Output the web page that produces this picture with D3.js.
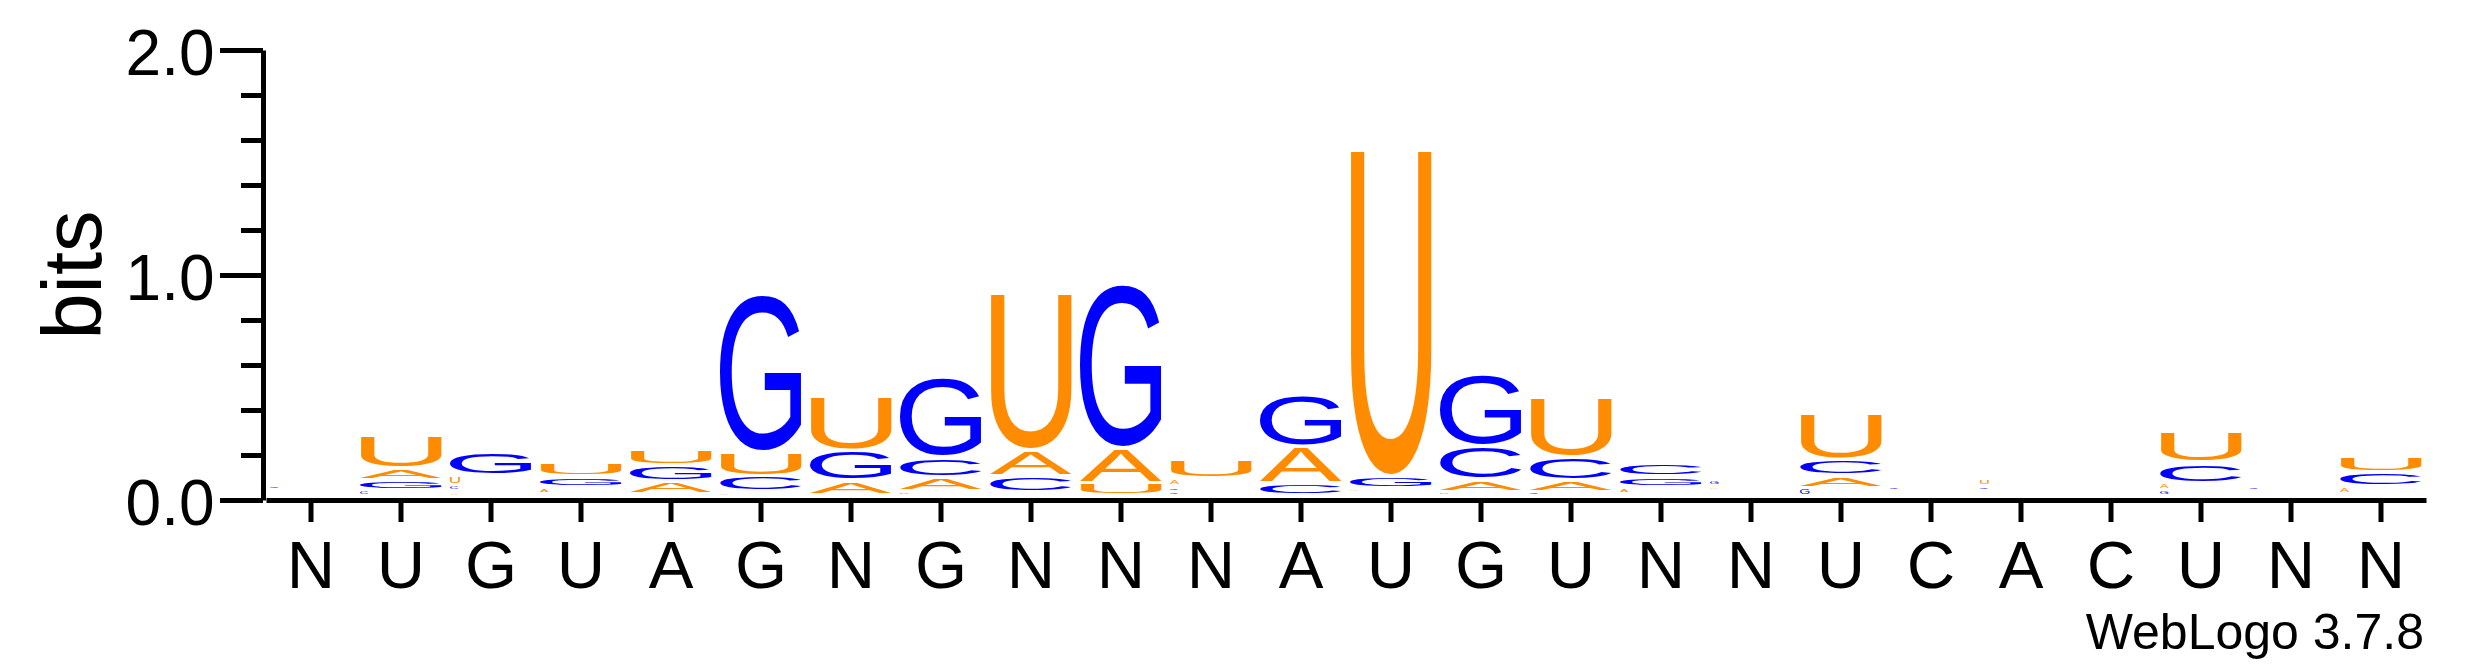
<!DOCTYPE html>
<html>
<head>
<meta charset="utf-8">
<script src="https://cdn.jsdelivr.net/npm/d3@7"></script>
<style>
  html, body { margin: 0; padding: 0; background: #fff; }
</style>
</head>
<body>
<div id="logo"></div>
<script>
// sequence labels under each column
const positions = ['N','U','G','U','A','G','N','G','N','N','N','A','U','G','U','N','N','U','C','A','C','U','N','N']

// letter heights in bits, one value per column
const bitsA = [0.004, 0.050, 0.024, 0.031, 0.058, 0.024, 0.062, 0.062, 0.116, 0.152, 0.036, 0.164, 0.024, 0.053, 0.049, 0.031, 0.022, 0.053, 0.010, 0.021, 0.003, 0.032, 0.010, 0.036]
const bitsC = [0.020, 0.027, 0.027, 0.012, 0.010, 0.067, 0.008, 0.089, 0.071, 0.006, 0.024, 0.053, 0.014, 0.151, 0.107, 0.058, 0.005, 0.071, 0.023, 0.023, 0.003, 0.090, 0.022, 0.062]
const bitsG = [0.025, 0.048, 0.102, 0.049, 0.070, 0.702, 0.133, 0.355, 0.019, 0.735, 0.022, 0.231, 0.053, 0.320, 0.022, 0.049, 0.030, 0.040, 0.003, 0.003, 0.003, 0.028, 0.003, 0.010]
const bitsU = [0.004, 0.151, 0.044, 0.062, 0.072, 0.107, 0.244, 0.024, 0.698, 0.056, 0.088, 0.005, 1.453, 0.022, 0.267, 0.010, 0.020, 0.210, 0.010, 0.033, 0.003, 0.140, 0.010, 0.071]

const majorTicks = [0, 1, 2]
const yTickLabels = ['0.0', '1.0', '2.0']
const minorTicks = [0.2, 0.4, 0.6, 0.8, 1.2, 1.4, 1.6, 1.8]

const bases = ['A', 'C', 'G', 'U']
const series = {A: bitsA, C: bitsC, G: bitsG, U: bitsU}
const colors = {A: '#ff8c00', C: '#0000ff', G: '#0000ff', U: '#ff8c00'}
const font = '"Liberation Sans", Arial, Helvetica, sans-serif'

const width = 2475, height = 667
const lineW = 5

const svg = d3.select('#logo')
    .append('svg')
    .attr('width', width).attr('height', height)

const x = d3.scaleBand()
    .domain(d3.range(positions.length))
    .range([266, 2426])
const y = d3.scaleLinear()
    .domain([0, 2])
    .range([500, 50])

// y axis, major ticks with labels
const yg = svg.append('g')
    .attr('transform', 'translate(263,0)')
    .call(d3.axisLeft(y).tickValues(majorTicks)
        .tickFormat((d, i) => yTickLabels[i])
        .tickSize(43).tickPadding(5.5).tickSizeOuter(0))
yg.select('.domain').attr('stroke-width', lineW)
yg.selectAll('.tick line').attr('stroke-width', lineW)
yg.selectAll('.tick text')
    .attr('font-size', 64).attr('font-family', font)
    .attr('dy', '0.375em')

// minor ticks
const ym = svg.append('g')
    .attr('transform', 'translate(263,0)')
    .call(d3.axisLeft(y).tickValues(minorTicks).tickFormat('').tickSize(22))
ym.select('.domain').remove()
ym.selectAll('.tick line').attr('stroke-width', lineW)

// x axis with sequence letters
const xg = svg.append('g')
    .attr('transform', `translate(0,${y(0)})`)
    .call(d3.axisBottom(x).tickFormat(i => positions[i])
        .tickSize(22).tickPadding(18.4).tickSizeOuter(0))
xg.select('.domain').attr('stroke-width', lineW)
xg.selectAll('.tick line').attr('stroke-width', lineW)
xg.selectAll('.tick text')
    .attr('font-size', 67).attr('font-family', font)

// axis title
svg.append('text')
    .text('bits')
    .attr('transform', `translate(101,${y(1)}) rotate(-90)`)
    .attr('text-anchor', 'middle')
    .attr('font-size', 83).attr('font-family', font)

svg.append('text')
    .text('WebLogo 3.7.8')
    .attr('x', 2424).attr('y', 649)
    .attr('text-anchor', 'end')
    .attr('font-size', 50).attr('font-family', font)

// glyph ink boxes, so each letter can be stretched to fill its slot
const ctx = document.createElement('canvas').getContext('2d')
ctx.font = `100px ${font}`
const metrics = {}
bases.forEach(b => {
    const m = ctx.measureText(b)
    metrics[b] = {left: m.actualBoundingBoxLeft, right: m.actualBoundingBoxRight,
                  ascent: m.actualBoundingBoxAscent, descent: m.actualBoundingBoxDescent}
})

const base0 = y(0) - lineW / 2
const letterW = x.bandwidth() * 0.91
const stacks = svg.append('g')

positions.forEach((p, i) => {
    const stack = bases.map(b => ({base: b, bits: series[b][i]}))
        .sort((a, b) => a.bits - b.bits)
    let cum = 0
    stack.forEach(s => {
        const boxBottom = y(cum) - lineW / 2
        const boxTop = y(cum + s.bits) - lineW / 2
        cum += s.bits
        const inkTop = boxTop + 1
        const inkH = (boxBottom - 3) - inkTop
        if (inkH < 0.8) return
        const left0 = x(i) + (x.bandwidth() - letterW) / 2
        // tiny letters come out narrow and hug the left edge
        const w = inkH < 6 ? 7 + inkH * 0.5 : letterW
        const m = metrics[s.base]
        const sx = w / (m.left + m.right)
        const sy = inkH / (m.ascent + m.descent)
        stacks.append('text')
            .text(s.base)
            .attr('x', m.left).attr('y', m.ascent)
            .attr('font-size', 100).attr('font-family', font)
            .attr('fill', colors[s.base])
            .attr('transform', `translate(${left0},${inkTop}) scale(${sx},${sy})`)
    })
})
</script>
</body>
</html>
